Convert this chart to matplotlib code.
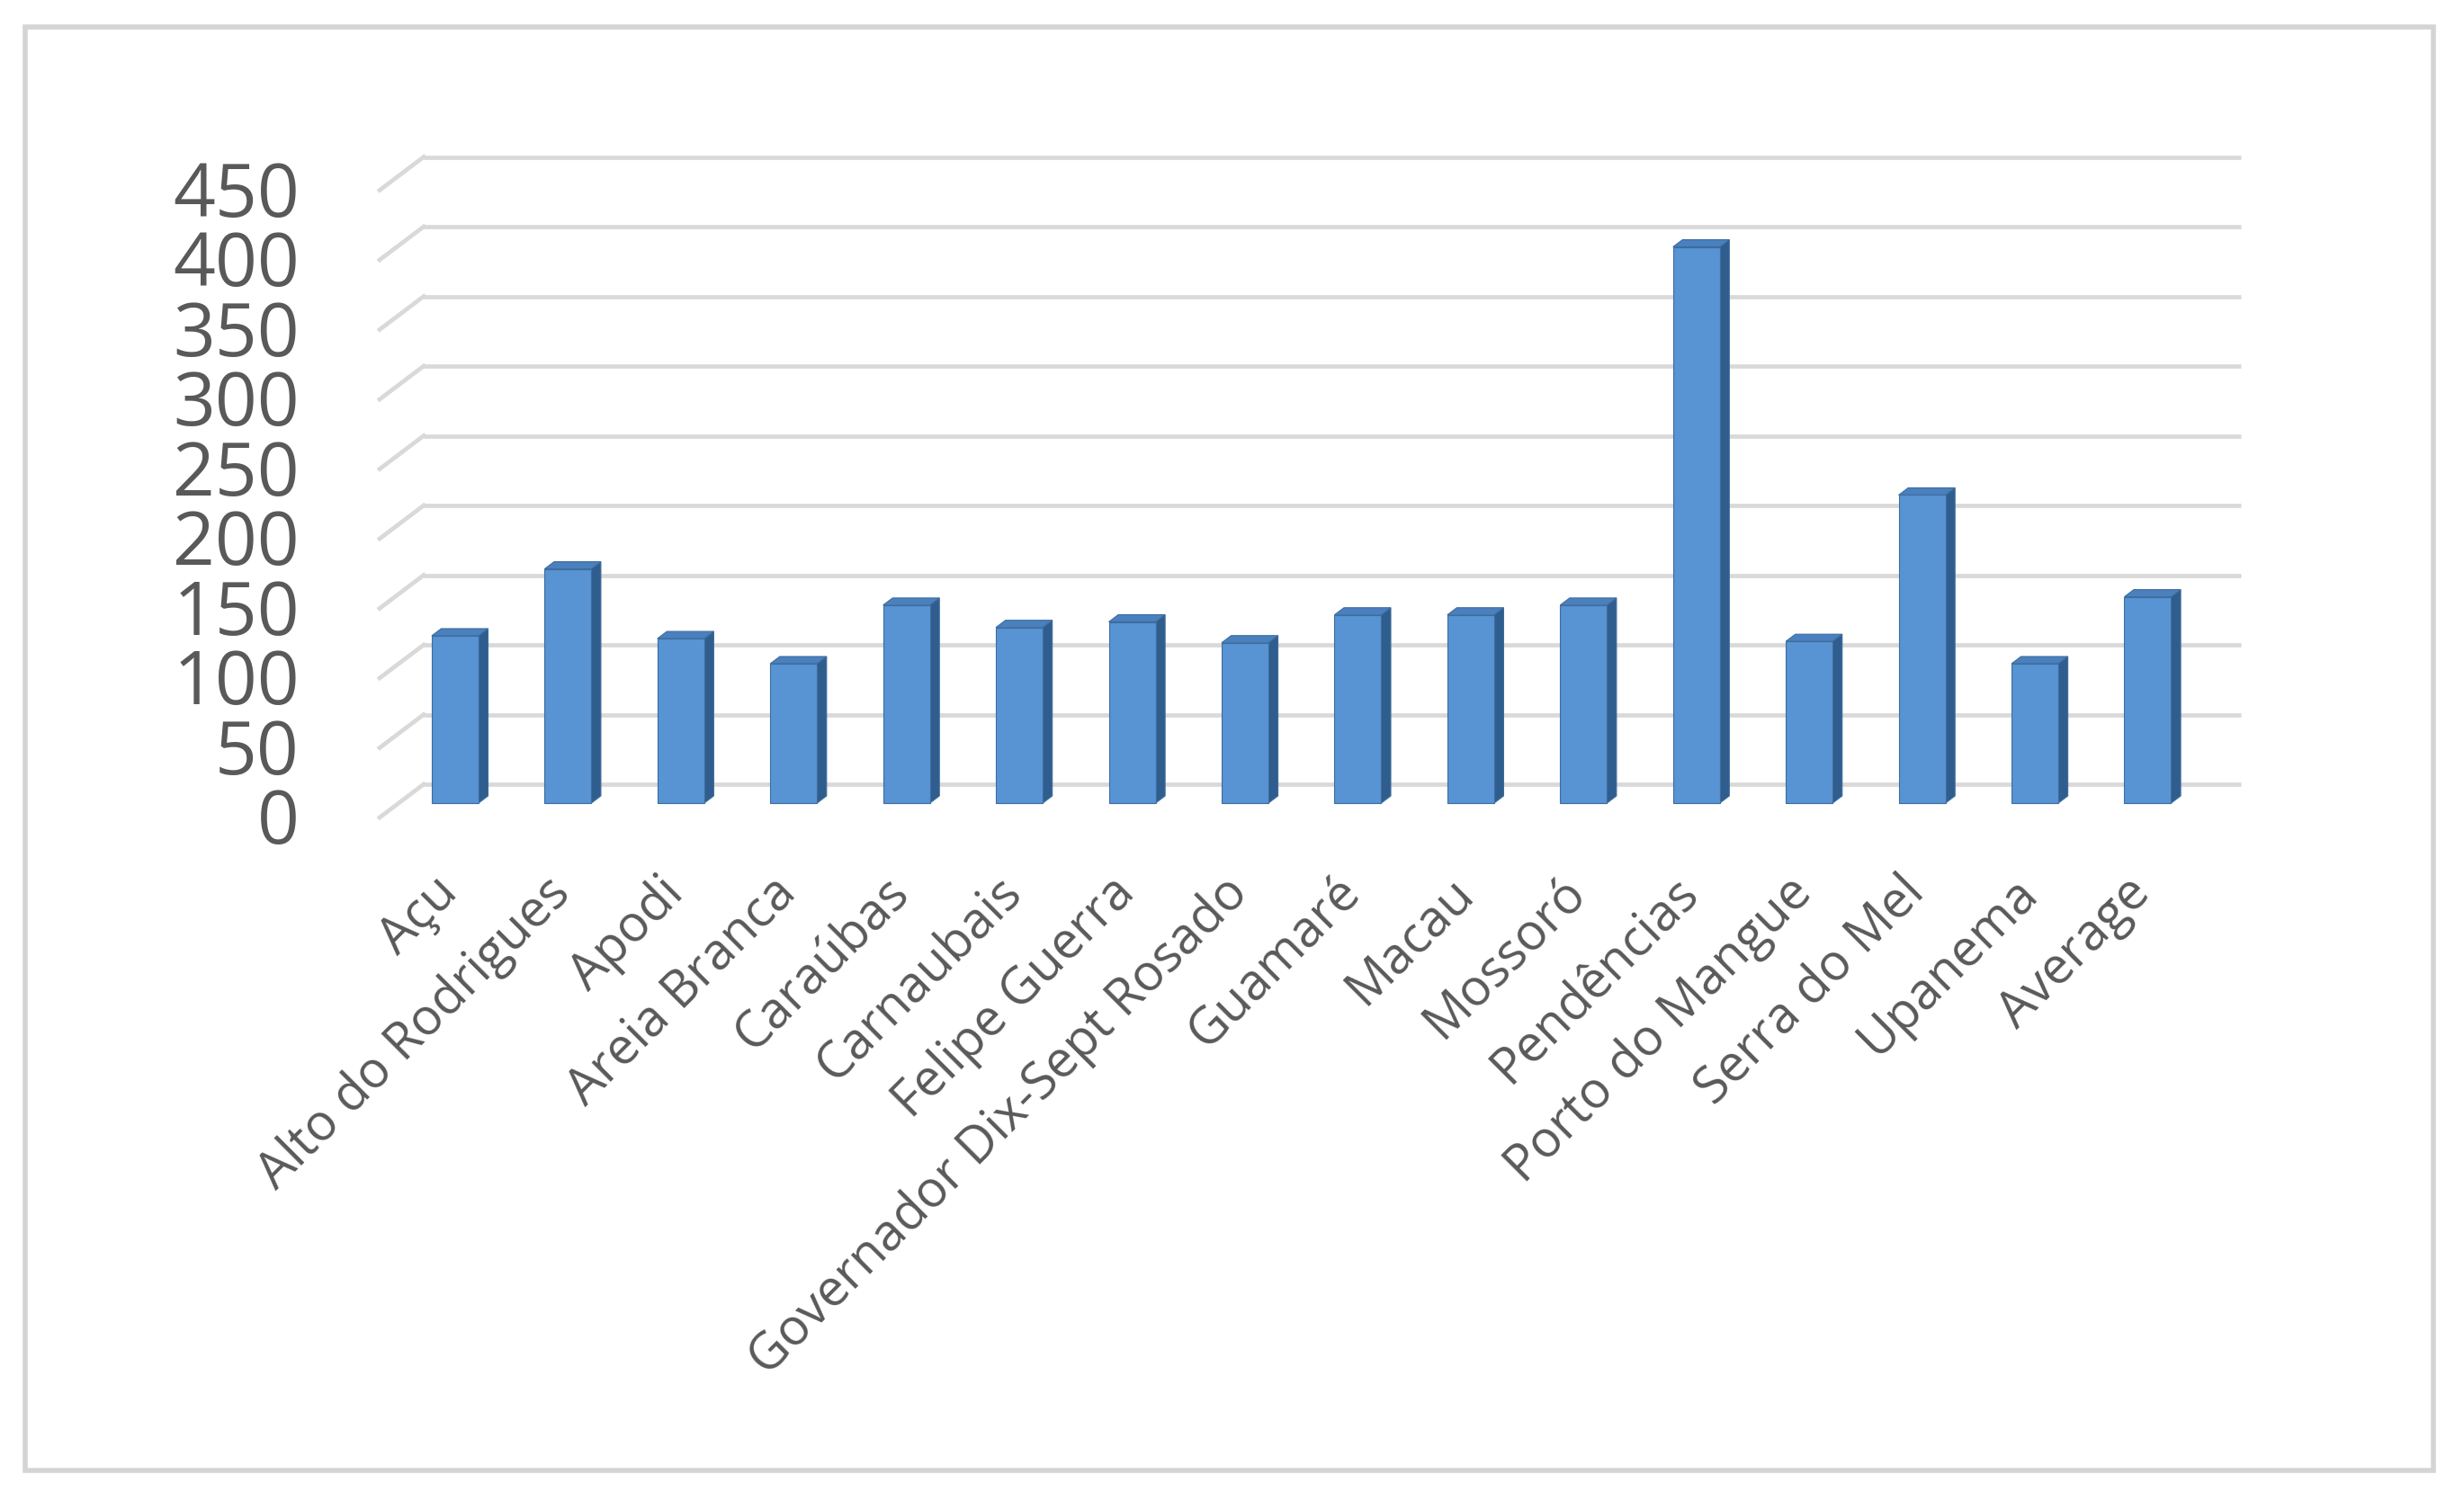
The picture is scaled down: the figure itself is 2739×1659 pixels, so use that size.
import matplotlib
matplotlib.use('Agg')
import matplotlib.pyplot as plt
import matplotlib.transforms as mtransforms
from matplotlib.patches import Polygon, Rectangle

cities = ['Açu', 'Alto do Rodrigues', 'Apodi', 'Areia Branca', 'Caraúbas',
          'Carnaubais', 'Felipe Guerra', 'Governador Dix-Sept Rosado', 'Guamaré',
          'Macau', 'Mossoró', 'Pendências', 'Porto do Mangue', 'Serra do Mel',
          'Upanema', 'Average']
values = [120, 168, 118, 100, 142, 126, 130, 115, 135, 135, 142, 399, 116, 221, 100, 148]
y_ticks = [0, 50, 100, 150, 200, 250, 300, 350, 400, 450]

W, H, DPI = 2739, 1659, 100
TEXT = '#595959'
GRID = '#d9d9d9'
FRONT, SIDE, TOP, EDGE = '#5893d3', '#2f5e8e', '#4a80bd', '#3d6d9e'

fig = plt.figure(figsize=(W / DPI, H / DPI), dpi=DPI)
# axes = back wall of the 3d chart
ax = fig.add_axes([471 / W, (H - 872) / H, 2007 / W, 697.5 / H])
ax.set_xlim(-0.5, len(cities) - 0.5)
ax.set_ylim(0, 450)
ax.axis('off')

px_x = 2007 / len(cities)  # pixels per category
px_y = 697.5 / 450         # pixels per value unit
DEPTH = (-49, -37)         # pixel shift from back wall to front plane


def off(f):
    # data offset for a depth fraction f (0 = back wall, 1 = front)
    return DEPTH[0] * f / px_x, DEPTH[1] * f / px_y


# gridlines on back wall + side wall
dx, dy = off(1)
for t in y_ticks:
    ax.plot([-0.5, len(cities) - 0.4], [t, t], color=GRID, lw=3.4,
            solid_capstyle='butt', clip_on=False, zorder=1)
    ax.plot([-0.5, -0.5 + dx], [t, t + dy], color=GRID, lw=3.4,
            clip_on=False, zorder=1)
    lab = mtransforms.offset_copy(ax.transData, fig, x=0, y=DEPTH[1] - 8, units='dots')
    ax.text(-0.5 - 138 / px_x, t, str(t), transform=lab, ha='right', va='center',
            fontsize=59, color=TEXT, family='Open Sans')

# 3d-ish bars
f0, f1 = 13 / 37, 21 / 37
bw = 52 / px_x
bx1, by1 = off(f1)
bx0, by0 = off(f0)
sx, sy = bx0 - bx1, by0 - by1
for i, v in enumerate(values):
    xl = i + bx1 - bw / 2
    xr = xl + bw
    ax.add_patch(Polygon([(xr, by1), (xr, by1 + v), (xr + sx, by1 + v + sy), (xr + sx, by1 + sy)],
                         closed=True, fc=SIDE, ec=EDGE, lw=0.8, clip_on=False, zorder=3))
    ax.add_patch(Polygon([(xl, by1 + v), (xr, by1 + v), (xr + sx, by1 + v + sy), (xl + sx, by1 + v + sy)],
                         closed=True, fc=TOP, ec=EDGE, lw=0.8, clip_on=False, zorder=3))
    ax.add_patch(Rectangle((xl, by1), bw, v, fc=FRONT, ec=EDGE, lw=0.8,
                           clip_on=False, zorder=4))
    ax.annotate(cities[i], xy=(i + bx1, by1), xytext=(-4, -66), textcoords='offset points',
                rotation=45, rotation_mode='anchor', ha='right', va='center',
                fontsize=40.5, color=TEXT, family='Open Sans', annotation_clip=False)

# outer chart frame
fig.add_artist(Rectangle((28 / W, (H - 1635) / H), (2705 - 28) / W, (1635 - 30) / H,
                         transform=fig.transFigure, fill=False, ec='#d4d4d4', lw=4))

fig.savefig('out.png', dpi=DPI, facecolor='white')
